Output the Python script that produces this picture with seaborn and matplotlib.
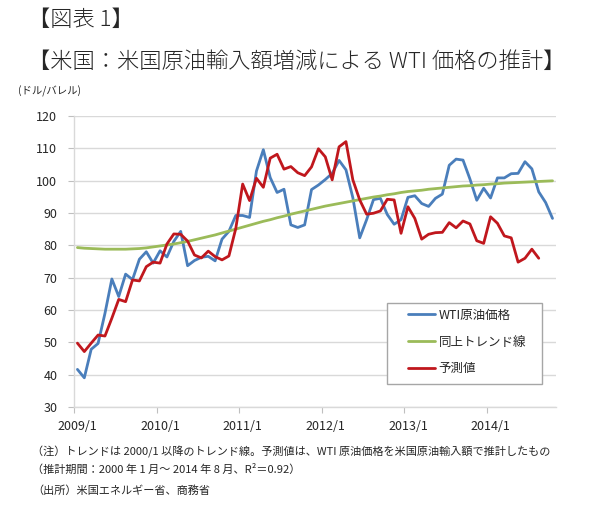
import numpy as np
import pandas as pd
import matplotlib.pyplot as plt
import seaborn as sns
from matplotlib.patches import Rectangle

# ----------------------
# DATA (monthly, 2009/1 - 2014/10)
# ----------------------
months = [f"{y}/{m}" for y in range(2009, 2015) for m in range(1, 13)][:70]

wti = [41.7, 39.1, 47.9, 49.7, 59.0, 69.6, 64.2, 71.1, 69.4, 75.7, 78.0, 74.5,
       78.3, 76.4, 81.2, 84.3, 73.7, 75.3, 76.3, 76.6, 75.2, 81.9, 84.3, 89.2,
       89.2, 88.6, 102.9, 109.5, 100.9, 96.3, 97.3, 86.3, 85.5, 86.3, 97.2, 98.6,
       100.3, 102.2, 106.2, 103.3, 94.7, 82.3, 87.9, 94.1, 94.5, 89.5, 86.5, 87.9,
       94.8, 95.3, 92.9, 92.0, 94.5, 95.8, 104.7, 106.6, 106.3, 100.5, 93.9, 97.6,
       94.6, 100.8, 100.8, 102.1, 102.2, 105.8, 103.6, 96.5, 93.2, 88.3]

trend = [79.3, 79.1, 79.0, 78.9, 78.8, 78.8, 78.8, 78.8, 78.9, 79.0, 79.2, 79.5,
         79.8, 80.1, 80.4, 80.8, 81.2, 81.7, 82.2, 82.7, 83.2, 83.8, 84.4, 85.0,
         85.6, 86.2, 86.8, 87.4, 87.9, 88.5, 89.0, 89.6, 90.1, 90.6, 91.1, 91.6,
         92.1, 92.5, 92.9, 93.3, 93.7, 94.1, 94.5, 94.9, 95.2, 95.6, 95.9, 96.3,
         96.6, 96.8, 97.0, 97.3, 97.5, 97.7, 97.9, 98.1, 98.3, 98.4, 98.6, 98.7,
         98.9, 99.0, 99.2, 99.3, 99.4, 99.5, 99.6, 99.7, 99.8, 99.9]

# 予測値 (2009/1 - 2014/8)
pred = [49.8, 47.2, 49.8, 52.3, 52.0, 57.5, 63.3, 62.6, 69.3, 69.0, 73.4, 74.8,
        74.5, 80.4, 83.5, 83.4, 81.3, 77.0, 76.1, 78.2, 76.5, 75.5, 76.7, 85.2,
        98.9, 93.8, 100.7, 97.9, 106.9, 108.1, 103.5, 104.3, 102.4, 101.5, 104.2, 109.8,
        107.3, 100.2, 110.4, 112.0, 100.2, 94.0, 89.6, 89.9, 90.6, 94.2, 94.0, 83.7,
        91.9, 88.3, 81.9, 83.4, 83.9, 84.0, 87.0, 85.4, 87.5, 86.6, 81.4, 80.6,
        88.8, 86.8, 82.9, 82.3, 74.8, 76.0, 78.8, 76.0]

series_names = ["WTI原油価格", "同上トレンド線", "予測値"]
series_colors = ["#4A7EBB", "#9BBB59", "#C0171D"]

year_labels = ["2009/1", "2010/1", "2011/1", "2012/1", "2013/1", "2014/1"]

# ----------------------
# PLOT
# ----------------------
sns.set_style("white")
plt.rcParams["font.family"] = ["Noto Sans CJK JP", "DejaVu Sans"]

fig = plt.figure(figsize=(6, 5.17), dpi=100)
ax = fig.add_axes([0.1233, 0.2122, 0.8033, 0.564])

t = np.arange(len(months))
sns.lineplot(x=t, y=wti, color=series_colors[0], lw=2, label=series_names[0], ax=ax)
sns.lineplot(x=t, y=trend, color=series_colors[1], lw=2, label=series_names[1], ax=ax)
sns.lineplot(x=t[:len(pred)], y=pred, color=series_colors[2], lw=2, label=series_names[2], ax=ax)

ax.set_xlim(-0.5, len(months) - 0.5)
ax.set_ylim(30, 120)
ax.set_yticks(range(30, 121, 10))
ax.yaxis.grid(True, color="#D9D9D9", lw=1)
ax.set_axisbelow(True)
ax.set_xlabel("")
ax.set_ylabel("")

# ticks at year boundaries, labels on the first month
ax.set_xticks(np.arange(-0.5, 60, 12))
ax.set_xticklabels([])
ax.set_xticks(np.arange(0, 61, 12), minor=True)
ax.set_xticklabels(year_labels, minor=True, fontsize=9)
ax.tick_params(axis="x", which="major", length=4, color="#BFBFBF", direction="out", bottom=True)
ax.tick_params(axis="x", which="minor", length=0, pad=9)
ax.tick_params(axis="y", length=4, color="#BFBFBF", direction="out", left=True, labelsize=9, pad=8)

for s in ["top", "right"]:
    ax.spines[s].set_visible(False)
for s in ["left", "bottom"]:
    ax.spines[s].set_color("#D9D9D9")
    ax.spines[s].set_linewidth(1)

# legend box drawn separately so it keeps the reference size
ax.add_patch(Rectangle((0.649, 0.080), 0.322, 0.278, transform=ax.transAxes,
                       facecolor="white", edgecolor="#A6A6A6", lw=1, zorder=4))
leg = ax.legend(loc="upper left", bbox_to_anchor=(0.692, 0.338), borderaxespad=0,
                fontsize=9, handlelength=2.2, handletextpad=0.3, labelspacing=1.1,
                borderpad=0, frameon=False)
leg.set_zorder(5)

# ----------------------
# TEXTS
# ----------------------
fig.text(28 / 600, 1 - 20 / 517, "【図表 1】", fontsize=16, va="center", fontweight="light")
fig.text(28 / 600, 1 - 62 / 517, "【米国：米国原油輸入額増減による WTI 価格の推計】",
         fontsize=16, va="center", fontweight="light")
fig.text(18 / 600, 1 - 91 / 517, "(ドル/バレル)", fontsize=7.5, va="center")

fig.text(32 / 600, 1 - 452 / 517,
         "（注）トレンドは 2000/1 以降のトレンド線。予測値は、WTI 原油価格を米国原油輸入額で推計したもの",
         fontsize=8, va="center")
fig.text(32 / 600, 1 - 469 / 517, "（推計期間：2000 年 1 月～ 2014 年 8 月、R²＝0.92）",
         fontsize=8, va="center")
fig.text(32 / 600, 1 - 491 / 517, "（出所）米国エネルギー省、商務省", fontsize=8, va="center")

fig.savefig("out.png", dpi=100)
